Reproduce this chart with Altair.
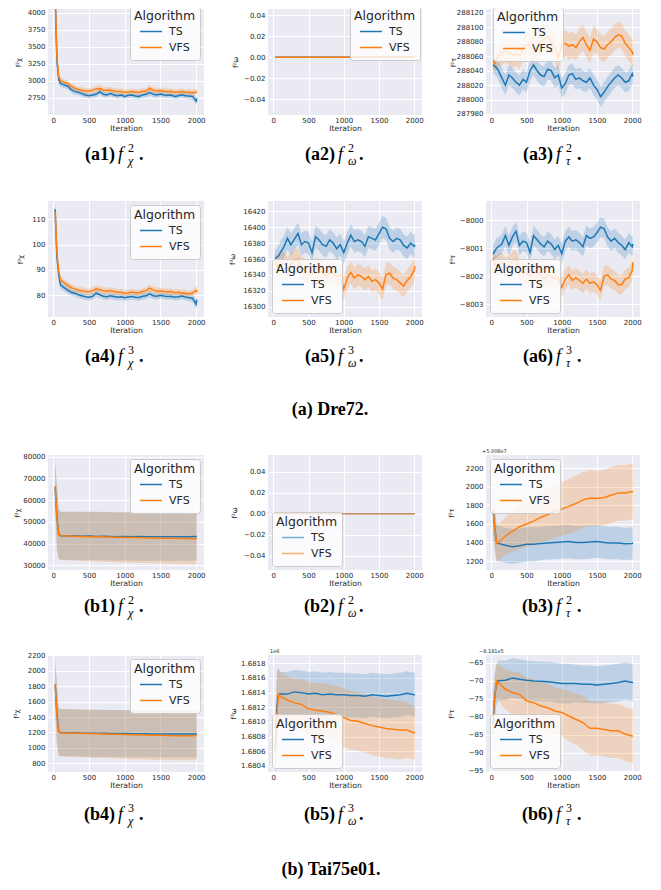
import altair as alt
import pandas as pd

# ---------------- data ----------------
ITER_FINE = [25, 50, 75, 100, 150, 200, 250, 300, 350, 400,
             450, 500, 550, 600, 650, 700, 750, 800, 850, 900,
             950, 1000, 1050, 1100, 1150, 1200, 1250, 1300, 1350, 1400,
             1450, 1500, 1550, 1600, 1650, 1700, 1750, 1800, 1850, 1900,
             1950, 2000, 2010]
ITER_COARSE = [25, 50, 75, 100,
               200, 300, 400, 500, 600, 700, 800, 900, 1000, 1100,
               1200, 1300, 1400, 1500, 1600, 1700, 1800, 1900, 2000,
               2010]
ITER_FLAT = [25, 2010]
ALGORITHMS = ["TS", "VFS"]
X_TICKS = [0, 500, 1000, 1500, 2000]

# (a1) Dre72 f_chi^2
A1_TS_M = [4250, 3300, 3020, 2960, 2940, 2920, 2870, 2840, 2830, 2810,
           2790, 2780, 2790, 2800, 2840, 2800, 2790, 2810, 2790, 2780,
           2790, 2770, 2785, 2790, 2775, 2770, 2790, 2800, 2825, 2800,
           2790, 2805, 2790, 2785, 2790, 2770, 2780, 2795, 2780, 2775,
           2770, 2700, 2740]
A1_TS_E = [250, 150, 70, 50, 45, 45, 45, 42, 42, 42,
           40, 40, 40, 42, 45, 40, 40, 40, 40, 40,
           40, 40, 40, 40, 40, 40, 40, 42, 45, 40,
           40, 40, 40, 40, 40, 40, 40, 40, 40, 40,
           45, 60, 50]
A1_VFS_M = [4300, 3350, 3060, 3000, 2980, 2960, 2920, 2890, 2870, 2860,
            2850, 2850, 2860, 2880, 2885, 2860, 2860, 2865, 2850, 2840,
            2840, 2830, 2835, 2840, 2830, 2830, 2845, 2850, 2890, 2860,
            2850, 2855, 2845, 2840, 2845, 2830, 2835, 2840, 2830, 2830,
            2825, 2830, 2840]
A1_VFS_E = [250, 150, 70, 50, 45, 45, 45, 45, 45, 45,
            45, 45, 45, 45, 48, 45, 45, 45, 45, 45,
            45, 45, 45, 45, 45, 45, 45, 45, 48, 45,
            45, 45, 45, 45, 45, 45, 45, 45, 45, 45,
            45, 45, 45]

# (a2) / (b2) constant zero
FLAT_M = [0.0, 0.0]
FLAT_E = [0.0, 0.0]

# (a3) Dre72 f_tau^2
A3_TS_M = [288048, 288046, 288044, 288040, 288030, 288020, 288034, 288030, 288024, 288020,
           288028, 288024, 288040, 288048, 288040, 288034, 288032, 288042, 288040, 288030,
           288034, 288016, 288022, 288034, 288036, 288028, 288030, 288026, 288024, 288030,
           288020, 288014, 288004, 288010, 288018, 288024, 288030, 288034, 288030, 288024,
           288026, 288036, 288032]
A3_TS_E = [10, 12, 12, 13, 14, 14, 14, 14, 14, 14,
           14, 14, 14, 14, 14, 14, 14, 14, 14, 14,
           14, 14, 14, 14, 14, 14, 14, 14, 14, 14,
           14, 14, 14, 14, 14, 14, 14, 14, 14, 14,
           14, 14, 14]
A3_VFS_M = [288054, 288050, 288056, 288060, 288064, 288068, 288066, 288062, 288064, 288060,
            288070, 288076, 288074, 288070, 288072, 288080, 288084, 288088, 288080, 288072,
            288058, 288076, 288078, 288074, 288076, 288072, 288080, 288086, 288076, 288068,
            288084, 288080, 288072, 288070, 288076, 288080, 288086, 288090, 288088, 288078,
            288072, 288066, 288062]
A3_VFS_E = [10, 12, 14, 15, 16, 17, 18, 18, 18, 18,
            18, 18, 18, 18, 18, 18, 18, 18, 18, 18,
            18, 18, 18, 18, 18, 18, 18, 18, 18, 18,
            18, 18, 18, 18, 18, 18, 18, 18, 18, 18,
            18, 18, 18]

# (a4) Dre72 f_chi^3
A4_TS_M = [114, 95, 88, 84, 83, 82, 81.2, 80.8, 80.2, 79.8,
           79.4, 79.2, 79.6, 80.8, 80.2, 79.6, 79.4, 79.8, 79.5, 79.2,
           79.4, 79.0, 79.3, 79.5, 79.2, 79.1, 79.6, 79.8, 80.5, 79.8,
           79.6, 80.0, 79.7, 79.5, 79.6, 79.2, 79.4, 79.7, 79.3, 79.0,
           78.8, 76.5, 78.2]
A4_TS_E = [3, 2.5, 2, 1.6, 1.4, 1.4, 1.3, 1.3, 1.3, 1.3,
           1.3, 1.3, 1.3, 1.4, 1.4, 1.3, 1.3, 1.3, 1.3, 1.3,
           1.3, 1.3, 1.3, 1.3, 1.3, 1.3, 1.3, 1.3, 1.4, 1.3,
           1.3, 1.3, 1.3, 1.3, 1.3, 1.3, 1.3, 1.3, 1.3, 1.3,
           1.5, 2.0, 1.8]
A4_VFS_M = [113, 97, 89.5, 86, 85, 84, 83, 82.5, 82, 81.8,
            81.5, 81.4, 81.8, 82.5, 82.2, 81.8, 81.6, 81.9, 81.5, 81.2,
            81.2, 80.8, 81.0, 81.3, 81.0, 81.0, 81.5, 81.8, 82.8, 82.0,
            81.6, 81.8, 81.5, 81.4, 81.5, 81.0, 81.2, 81.0, 80.8, 80.6,
            80.9, 82.0, 81.2]
A4_VFS_E = [3, 2.5, 2, 1.6, 1.4, 1.4, 1.3, 1.3, 1.3, 1.3,
            1.3, 1.3, 1.3, 1.4, 1.4, 1.3, 1.3, 1.3, 1.3, 1.3,
            1.3, 1.3, 1.3, 1.3, 1.3, 1.3, 1.3, 1.3, 1.4, 1.3,
            1.3, 1.3, 1.3, 1.3, 1.3, 1.3, 1.3, 1.3, 1.3, 1.3,
            1.4, 1.6, 1.5]

# (a5) Dre72 f_omega^3
A5_TS_M = [16361, 16362, 16364, 16368, 16375, 16386, 16378, 16385, 16392, 16378,
           16382, 16380, 16368, 16388, 16384, 16378, 16376, 16384, 16380, 16373,
           16378, 16368, 16380, 16390, 16382, 16384, 16382, 16376, 16388, 16386,
           16384, 16392, 16400, 16398, 16386, 16382, 16386, 16384, 16377, 16374,
           16380, 16376, 16378]
A5_TS_E = [10, 12, 13, 14, 14, 14, 14, 14, 14, 14,
           14, 14, 14, 14, 14, 14, 14, 14, 14, 14,
           14, 14, 14, 14, 14, 14, 14, 14, 14, 14,
           14, 14, 14, 14, 14, 14, 14, 14, 14, 14,
           14, 14, 14]
A5_VFS_M = [16357, 16352, 16349, 16352, 16355, 16349, 16353, 16358, 16360, 16349,
            16346, 16344, 16341, 16348, 16346, 16343, 16338, 16342, 16342, 16338,
            16340, 16322, 16336, 16343, 16336, 16340, 16338, 16334, 16338, 16332,
            16334, 16330, 16322, 16340, 16342, 16336, 16334, 16330, 16326, 16333,
            16338, 16346, 16351]
A5_VFS_E = [10, 12, 13, 14, 14, 14, 14, 14, 14, 14,
            14, 14, 14, 14, 14, 14, 14, 14, 14, 14,
            14, 14, 14, 14, 14, 14, 14, 14, 14, 14,
            14, 14, 14, 14, 14, 14, 14, 14, 14, 14,
            14, 14, 14]

# (a6) Dre72 f_tau^3
A6_TS_M = [-8001.2, -8001.1, -8001.0, -8000.95, -8000.85, -8000.55, -8000.9, -8000.6, -8000.4, -8000.9,
           -8000.75, -8000.8, -8001.15, -8000.55, -8000.7, -8000.85, -8000.95, -8000.75, -8000.85, -8001.05,
           -8000.9, -8001.2, -8000.75, -8000.6, -8000.75, -8000.7, -8000.8, -8000.95, -8000.55, -8000.65,
           -8000.6, -8000.45, -8000.25, -8000.3, -8000.6, -8000.75, -8000.65, -8000.8, -8000.9, -8001.05,
           -8000.8, -8000.95, -8000.85]
A6_TS_E = [0.3, 0.32, 0.35, 0.35, 0.35, 0.35, 0.35, 0.35, 0.35, 0.35,
           0.35, 0.35, 0.35, 0.35, 0.35, 0.35, 0.35, 0.35, 0.35, 0.35,
           0.35, 0.35, 0.35, 0.35, 0.35, 0.35, 0.35, 0.35, 0.35, 0.35,
           0.35, 0.35, 0.35, 0.35, 0.35, 0.35, 0.35, 0.35, 0.35, 0.35,
           0.35, 0.35, 0.35]
A6_VFS_M = [-8001.35, -8001.55, -8001.65, -8001.55, -8001.5, -8001.7, -8001.6, -8001.45, -8001.4, -8001.75,
            -8001.85, -8001.9, -8002.0, -8001.8, -8001.85, -8001.95, -8002.1, -8001.95, -8002.0, -8002.1,
            -8002.05, -8002.4, -8002.1, -8001.95, -8002.15, -8002.05, -8002.15, -8002.25, -8002.1, -8002.25,
            -8002.2, -8002.3, -8002.5, -8002.0, -8001.95, -8002.1, -8002.15, -8002.3, -8002.3, -8002.1,
            -8002.05, -8001.8, -8001.5]
A6_VFS_E = [0.3, 0.32, 0.35, 0.35, 0.35, 0.35, 0.35, 0.35, 0.35, 0.35,
            0.35, 0.35, 0.35, 0.35, 0.35, 0.35, 0.35, 0.35, 0.35, 0.35,
            0.35, 0.35, 0.35, 0.35, 0.35, 0.35, 0.35, 0.35, 0.35, 0.35,
            0.35, 0.35, 0.35, 0.35, 0.35, 0.35, 0.35, 0.35, 0.35, 0.35,
            0.35, 0.35, 0.35]

# (b1) Tai75e01 f_chi^2
B1_TS_M = [66000, 52000, 44500, 43600,
           43500, 43600, 43400, 43500, 43300, 43400, 43300, 43200, 43300, 43200,
           43300, 43200, 43200, 43100, 43200, 43100, 43200, 43100, 43300,
           43300]
B1_TS_E = [11500, 15000, 11500, 11100,
           11100, 11100, 11100, 11100, 11100, 11100, 11100, 11100, 11100, 11100,
           11100, 11100, 11100, 11100, 11100, 11100, 11100, 11100, 11100,
           11100]
B1_VFS_M = [66500, 52000, 44000, 43600,
            43500, 43400, 43300, 43200, 43300, 43100, 43000, 42900, 42800, 42800,
            42700, 42700, 42600, 42500, 42500, 42400, 42300, 42300, 42200,
            42300]
B1_VFS_E = [11500, 15000, 11500, 11100,
            11200, 11300, 11300, 11400, 11400, 11500, 11500, 11500, 11600, 11600,
            11600, 11700, 11700, 11700, 11700, 11800, 11800, 11800, 11800,
            11800]

# (b3) Tai75e01 f_tau^2 (offset +5.008e7)
B3_TS_M = [1750, 1550, 1400, 1390,
           1370, 1355, 1365, 1380, 1380, 1390, 1395, 1400, 1405, 1410,
           1400, 1400, 1405, 1410, 1400, 1395, 1395, 1385, 1390,
           1395]
B3_TS_E = [280, 230, 200, 190,
           190, 190, 185, 185, 185, 180, 180, 180, 180, 180,
           180, 180, 180, 175, 175, 175, 175, 175, 175,
           175]
B3_VFS_M = [1750, 1560, 1390, 1400,
            1470, 1520, 1570, 1600, 1630, 1670, 1700, 1735, 1760, 1790,
            1820, 1860, 1880, 1875, 1885, 1910, 1935, 1935, 1950,
            1945]
B3_VFS_E = [300, 230, 200, 200,
            200, 220, 240, 250, 260, 270, 280, 285, 290, 295,
            300, 300, 300, 300, 300, 300, 300, 300, 300,
            300]

# (b4) Tai75e01 f_chi^3
B4_TS_M = [1820, 1450, 1210, 1200,
           1195, 1195, 1190, 1190, 1188, 1188, 1186, 1185, 1185, 1184,
           1183, 1182, 1181, 1180, 1180, 1180, 1180, 1180, 1180,
           1182]
B4_TS_E = [320, 400, 310, 305,
           305, 305, 305, 305, 305, 305, 305, 305, 305, 305,
           305, 305, 305, 305, 305, 305, 305, 305, 305,
           305]
B4_VFS_M = [1830, 1420, 1200, 1195,
            1192, 1190, 1188, 1185, 1182, 1180, 1178, 1175, 1172, 1170,
            1168, 1166, 1164, 1162, 1160, 1158, 1156, 1158, 1160,
            1162]
B4_VFS_E = [320, 400, 310, 305,
            308, 310, 310, 310, 312, 312, 314, 315, 316, 317,
            318, 318, 320, 320, 320, 320, 320, 320, 320,
            320]

# (b5) Tai75e01 f_omega^3 (units of 1e6)
B5_TS_M = [1.68060, 1.68120, 1.68138, 1.68138,
           1.68138, 1.68141, 1.68140, 1.68138, 1.68139, 1.68137, 1.68138, 1.68137, 1.68137, 1.68136,
           1.68136, 1.68135, 1.68137, 1.68136, 1.68135, 1.68136, 1.68137, 1.68139, 1.68137,
           1.68137]
B5_TS_E = [0.0003, 0.0005, 0.00035, 0.0003,
           0.0003, 0.0003, 0.0003, 0.0003, 0.0003, 0.0003, 0.0003, 0.0003, 0.0003, 0.0003,
           0.0003, 0.0003, 0.0003, 0.0003, 0.0003, 0.0003, 0.0003, 0.0003, 0.0003,
           0.0003]
B5_VFS_M = [1.68060, 1.68110, 1.68138, 1.68135,
            1.68130, 1.68126, 1.68124, 1.68118, 1.68116, 1.68115, 1.68113, 1.68110, 1.68106, 1.68102,
            1.68101, 1.68098, 1.68095, 1.68093, 1.68091, 1.68090, 1.68089, 1.68089, 1.68085,
            1.68085]
B5_VFS_E = [0.0003, 0.0005, 0.00035, 0.00033,
            0.00032, 0.00033, 0.00035, 0.00036, 0.00037, 0.00038, 0.00038, 0.00039, 0.0004, 0.0004,
            0.0004, 0.0004, 0.0004, 0.0004, 0.0004, 0.0004, 0.0004, 0.00038, 0.00036,
            0.00036]

# (b6) Tai75e01 f_tau^3 (offset -8.181e5)
B6_TS_M = [-82, -73.8, -71, -70,
           -69.9, -69.3, -69.6, -69.9, -70.1, -70.2, -70.3, -70.5, -70.8, -70.8,
           -70.8, -71.0, -71.0, -71.2, -71.0, -70.8, -70.5, -70.1, -70.5,
           -70.6]
B6_TS_E = [6, 6, 5.5, 5.5,
           5.5, 5.5, 5.5, 5.5, 5.5, 5.5, 5.5, 5.5, 5.5, 5.5,
           5.2, 5.2, 5.2, 5.2, 5.2, 5.2, 5.2, 5.2, 5.2,
           5.2]
B6_VFS_M = [-80, -74.7, -70, -70.5,
            -72.4, -73.3, -73.8, -75.6, -76.1, -77, -77.5, -78.4, -78.8, -79.8,
            -80.7, -81.6, -83.2, -83.2, -83.5, -83.9, -83.9, -84.8, -85.3,
            -85.3]
B6_VFS_E = [8, 6, 5, 5,
            5.5, 6, 6, 6.5, 6.5, 6.5, 6.5, 6.5, 6.5, 7,
            7, 7.5, 7.5, 7.5, 7.5, 7.5, 7.5, 7.5, 7.5,
            7.5]

# ---------------- styling ----------------
BLUE = "#1f77b4"
ORANGE = "#ff7f0e"
BG = "#EAEAF2"
TXT = "#262626"
SANS = "DejaVu Sans"
SERIF = "Liberation Serif"
X_DOMAIN = [-75, 2110]
COL_W = [156, 154, 154]
ROW_H = [106, 116, 115, 117]
CAP_H = [86, 138, 85, 105]
CAP_BASE = [45, 45, 42, 48]


def make_df(xs, ts_m, ts_e, vfs_m, vfs_e):
    rows = []
    for alg, m, e in ((ALGORITHMS[0], ts_m, ts_e), (ALGORITHMS[1], vfs_m, vfs_e)):
        assert len(xs) == len(m) == len(e), (alg, len(xs), len(m), len(e))
        for x, mm, ee in zip(xs, m, e):
            rows.append({"it": x, "alg": alg, "m": mm, "lo": mm - ee, "hi": mm + ee})
    return pd.DataFrame(rows)


def make_legend(pos):
    kw = dict(
        title="Algorithm", padding=4,
        fillColor="rgba(255,255,255,0.8)", strokeColor="#cccccc", cornerRadius=3,
        titleFont=SANS, titleFontSize=12.5, titleFontWeight="normal", titleColor=TXT,
        titlePadding=1,
        labelFont=SANS, labelFontSize=11, labelColor=TXT, labelOffset=6,
        symbolType="stroke", symbolSize=484, symbolStrokeWidth=1.5, symbolOffset=5,
        clipHeight=16, rowPadding=0,
    )
    if isinstance(pos, tuple):
        kw.update(orient="none", legendX=pos[0], legendY=pos[1])
    else:
        kw.update(orient=pos, offset=4)
    return alt.Legend(**kw)


def build_panel(p, w, h):
    df = make_df(p["xs"], p["ts_m"], p["ts_e"], p["vfs_m"], p["vfs_e"])
    xenc = alt.X("it:Q", scale=alt.Scale(domain=X_DOMAIN, nice=False, zero=False),
                 axis=alt.Axis(values=X_TICKS, format="d", title="Iteration",
                               labelPadding=1, titlePadding=1))
    yscale = alt.Scale(domain=p["ydom"], nice=False, zero=False)
    yaxis = alt.Axis(values=p["yticks"], format=p["yfmt"], title=p["ytitle"],
                     labelPadding=3, titleX=-p["dx"], titleY=h / 2, titleAngle=270,
                     titleBaseline="middle", titleAlign="center", titleFontSize=7)
    band = alt.Chart(df).mark_area(opacity=0.22, clip=True).encode(
        x=xenc,
        y=alt.Y("lo:Q", scale=yscale, axis=yaxis, stack=None),
        y2="hi:Q",
        fill=alt.Fill("alg:N", scale=alt.Scale(domain=ALGORITHMS, range=[BLUE, ORANGE]),
                      legend=None),
    )
    line = alt.Chart(df).mark_line(strokeWidth=1.5, clip=True, opacity=p.get("lop", 1.0)).encode(
        x=xenc,
        y=alt.Y("m:Q", scale=yscale, axis=yaxis),
        color=alt.Color("alg:N", scale=alt.Scale(domain=ALGORITHMS, range=[BLUE, ORANGE]),
                        legend=make_legend(p["leg"])),
    )
    layers = [band, line]
    if p.get("offset"):
        layers.append(
            alt.Chart(pd.DataFrame({"t": [p["offset"]]})).mark_text(
                align="left", baseline="bottom", font=SANS, fontSize=5, color=TXT
            ).encode(x=alt.value(p["ox"]), y=alt.value(-1), text="t:N")
        )
    return alt.layer(*layers).resolve_scale(fill="independent", color="independent").properties(
        width=w, height=h, view=alt.ViewBackground(fill=BG, stroke=None)
    )


def text_layer(s, x, y, align, size, weight, style):
    return alt.Chart(pd.DataFrame({"t": [s]})).mark_text(
        align=align, baseline="alphabetic", font=SERIF, fontSize=size,
        fontWeight=weight, fontStyle=style, color="black"
    ).encode(x=alt.value(x), y=alt.value(y), text="t:N")


def caption_cell(w, h, label, sup, sub, base_y, extra=None):
    parts = [
        text_layer(label, 67, base_y, "right", 18, "bold", "normal"),
        text_layer("f", 70, base_y, "left", 18, "normal", "italic"),
        text_layer(sup, 80, base_y - 8, "left", 12, "normal", "normal"),
        text_layer(sub, 80, base_y + 5, "left", 12, "normal", "italic"),
        text_layer(".", 91, base_y, "left", 18, "bold", "normal"),
    ]
    if extra:
        parts.append(text_layer(extra[0], extra[1], extra[2], "center", 18, "bold", "normal"))
    return alt.layer(*parts).properties(width=w, height=h)


panels = [
    # row 1
    dict(xs=ITER_FINE, ts_m=A1_TS_M, ts_e=A1_TS_E, vfs_m=A1_VFS_M, vfs_e=A1_VFS_E,
         ydom=[2495, 4059], yticks=[2750, 3000, 3250, 3500, 3750, 4000], yfmt="d",
         ytitle="f²χ", dx=30, leg=(82, -3)),
    dict(xs=ITER_FLAT, ts_m=FLAT_M, ts_e=FLAT_E, vfs_m=FLAT_M, vfs_e=FLAT_E,
         ydom=[-0.0549, 0.0457], yticks=[-0.04, -0.02, 0, 0.02, 0.04], yfmt=".2f",
         ytitle="f²ω", dx=33, leg=(82, -3)),
    dict(xs=ITER_FINE, ts_m=A3_TS_M, ts_e=A3_TS_E, vfs_m=A3_VFS_M, vfs_e=A3_VFS_E,
         ydom=[287978.6, 288125.5],
         yticks=[287980, 288000, 288020, 288040, 288060, 288080, 288100, 288120],
         yfmt="d", ytitle="f²τ", dx=33, leg=(7, -2)),
    # row 2
    dict(xs=ITER_FINE, ts_m=A4_TS_M, ts_e=A4_TS_E, vfs_m=A4_VFS_M, vfs_e=A4_VFS_E,
         ydom=[71.4, 117.2], yticks=[80, 90, 100, 110], yfmt="d",
         ytitle="f³χ", dx=28, leg="top-right"),
    dict(xs=ITER_FINE, ts_m=A5_TS_M, ts_e=A5_TS_E, vfs_m=A5_VFS_M, vfs_e=A5_VFS_E,
         ydom=[16287, 16433], yticks=[16300, 16320, 16340, 16360, 16380, 16400, 16420], yfmt="d",
         ytitle="f³ω", dx=36, leg="bottom-left"),
    dict(xs=ITER_FINE, ts_m=A6_TS_M, ts_e=A6_TS_E, vfs_m=A6_VFS_M, vfs_e=A6_VFS_E,
         ydom=[-8003.45, -7999.32], yticks=[-8003, -8002, -8001, -8000], yfmt="d",
         ytitle="f³τ", dx=34, leg="bottom-left"),
    # row 3
    dict(xs=ITER_COARSE, ts_m=B1_TS_M, ts_e=B1_TS_E, vfs_m=B1_VFS_M, vfs_e=B1_VFS_E,
         ydom=[27834, 80783], yticks=[30000, 40000, 50000, 60000, 70000, 80000], yfmt="d",
         ytitle="f²χ", dx=31, leg="top-right"),
    dict(xs=ITER_FLAT, ts_m=FLAT_M, ts_e=FLAT_E, vfs_m=FLAT_M, vfs_e=FLAT_E,
         ydom=[-0.0533, 0.0558], yticks=[-0.04, -0.02, 0, 0.02, 0.04], yfmt=".2f",
         ytitle="f²ω", dx=34, leg="bottom-left", lop=0.6),
    dict(xs=ITER_COARSE, ts_m=B3_TS_M, ts_e=B3_TS_E, vfs_m=B3_VFS_M, vfs_e=B3_VFS_E,
         ydom=[1103, 2344], yticks=[1200, 1400, 1600, 1800, 2000, 2200], yfmt="d",
         ytitle="f²τ", dx=35, leg="top-left", offset="+5.008e7", ox=-4),
    # row 4
    dict(xs=ITER_COARSE, ts_m=B4_TS_M, ts_e=B4_TS_E, vfs_m=B4_VFS_M, vfs_e=B4_VFS_E,
         ydom=[687, 2204], yticks=[800, 1000, 1200, 1400, 1600, 1800, 2000, 2200], yfmt="d",
         ytitle="f³χ", dx=32, leg="top-right"),
    dict(xs=ITER_COARSE, ts_m=B5_TS_M, ts_e=B5_TS_E, vfs_m=B5_VFS_M, vfs_e=B5_VFS_E,
         ydom=[1.680318, 1.681913],
         yticks=[1.6804, 1.6806, 1.6808, 1.6810, 1.6812, 1.6814, 1.6816, 1.6818], yfmt=".4f",
         ytitle="f³ω", dx=35, leg="bottom-left", offset="1e6", ox=2),
    dict(xs=ITER_COARSE, ts_m=B6_TS_M, ts_e=B6_TS_E, vfs_m=B6_VFS_M, vfs_e=B6_VFS_E,
         ydom=[-95.3, -62.9], yticks=[-95, -90, -85, -80, -75, -70, -65], yfmt="d",
         ytitle="f³τ", dx=35, leg="bottom-left", offset="−8.181e5", ox=-7),
]

LABELS = [["(a1)", "(a2)", "(a3)"], ["(a4)", "(a5)", "(a6)"],
          ["(b1)", "(b2)", "(b3)"], ["(b4)", "(b5)", "(b6)"]]
SUPS = ["2", "3", "2", "3"]
SUBS = ["χ", "ω", "τ"]
GROUP_TITLES = {1: ("(a) Dre72.", 62, 98), 3: ("(b) Tai75e01.", 63, 103)}

cells = []
for r in range(4):
    for c in range(3):
        cells.append(build_panel(panels[r * 3 + c], COL_W[c], ROW_H[r]))
    for c in range(3):
        extra = GROUP_TITLES.get(r) if c == 1 else None
        cells.append(caption_cell(COL_W[c], CAP_H[r], LABELS[r][c], SUPS[r], SUBS[c],
                                  CAP_BASE[r], extra))

chart = alt.concat(
    *cells, columns=3, spacing={"row": 0, "column": 64}, bounds="flush"
).properties(
    padding={"left": 4, "top": -3, "right": 2, "bottom": 0}
).configure_view(
    stroke=None
).configure_axis(
    grid=True, gridColor="white", gridWidth=1, domain=False, ticks=False,
    labelFont=SANS, labelFontSize=7, labelColor=TXT, labelFlush=False, labelOverlap=False,
    titleFont=SANS, titleFontSize=7.7, titleFontWeight="normal", titleColor=TXT,
)

chart.save("out.html", embed_options={"renderer": "svg", "actions": False})
